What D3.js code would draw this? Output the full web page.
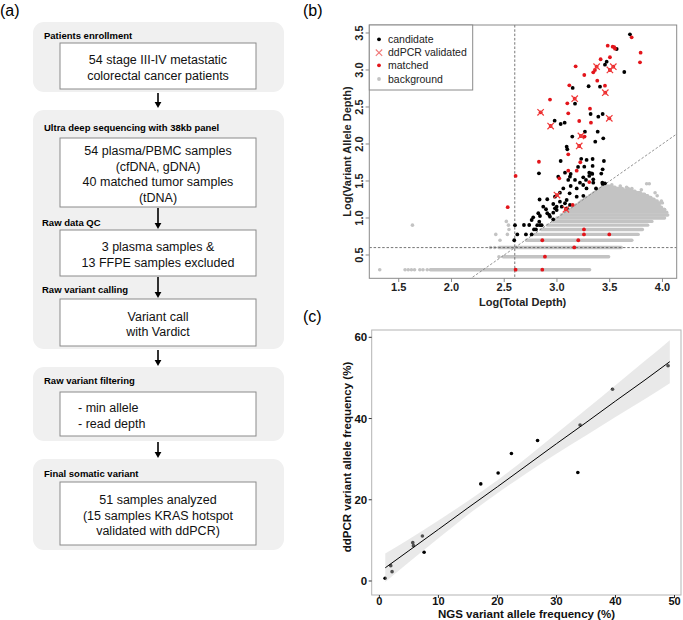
<!DOCTYPE html>
<html><head><meta charset="utf-8">
<script src="https://cdn.jsdelivr.net/npm/d3@7"></script>
<style>body{margin:0;background:#fff} svg{display:block} text{font-family:"Liberation Sans",Arial,sans-serif}</style>
</head><body><svg id="c" width="683" height="620"></svg>
<script>
// ---------------- Panel (a) flowchart texts ----------------
const stageTitles = ["Patients enrollment", "Ultra deep sequencing with 38kb panel", "Raw variant filtering", "Final somatic variant"];
const stepLabels = ["Raw data QC", "Raw variant calling"];
const boxLines = [
  ["54 stage III-IV metastatic", "colorectal cancer patients"],
  ["54 plasma/PBMC samples", "(cfDNA, gDNA)", "40 matched tumor samples", "(tDNA)"],
  ["3 plasma samples &", "13 FFPE samples excluded"],
  ["Variant call", "with Vardict"],
  ["- min allele", "- read depth"],
  ["51 samples analyzed", "(15 samples KRAS hotspot", "validated with ddPCR)"]
];
const panelTags = ["(a)", "(b)", "(c)"];

// ---------------- Panel (b) data: log10 depths ----------------
const bTicksX = [1.5, 2.0, 2.5, 3.0, 3.5, 4.0];
const bTicksY = [0.5, 1.0, 1.5, 2.0, 2.5, 3.0, 3.5];
const legendLabels = ["candidate", "ddPCR validated", "matched", "background"];
// background rows: [log allele depth, from log total depth, to log total depth]
const backgroundRows = [
  [0.301, 1.80, 3.31], [0.477, 2.49, 3.49], [0.602, 2.45, 3.61], [0.699, 2.71, 3.71],
  [0.778, 2.79, 3.77], [0.845, 2.85, 3.81], [0.903, 2.91, 3.86], [0.954, 2.96, 3.90],
  [1.000, 3.00, 4.02], [1.041, 3.04, 4.05], [1.079, 3.08, 4.04], [1.114, 3.12, 4.02],
  [1.146, 3.15, 3.99], [1.176, 3.18, 3.97], [1.204, 3.21, 4.00], [1.230, 3.23, 3.95],
  [1.255, 3.26, 3.92], [1.279, 3.28, 3.89], [1.301, 3.31, 3.86], [1.322, 3.33, 3.83],
  [1.342, 3.35, 3.79], [1.362, 3.37, 3.74], [1.380, 3.39, 3.70], [1.398, 3.41, 3.62],
  [1.415, 3.43, 3.55], [1.431, 3.45, 3.50]
];
const backgroundPts = [
  [1.32, 0.301], [1.56, 0.301], [1.59, 0.301], [1.62, 0.301], [1.65, 0.301], [1.70, 0.301], [1.73, 0.301], [1.77, 0.301],
  [2.45, 0.477], [2.37, 0.602], [2.41, 0.602], [2.46, 0.699], [2.42, 0.778], [2.53, 0.778], [2.545, 0.845],
  [1.63, 0.903], [2.54, 0.903], [2.52, 0.954],
  [3.676, 1.398], [3.71, 1.398], [3.77, 1.322], [3.85, 1.462], [3.875, 1.462], [3.99, 1.23], [4.02, 1.114],
  [3.60, 1.431], [3.66, 1.415], [3.95, 1.301], [3.93, 1.342], [3.52, 1.447], [3.80, 1.380]
];
const candidate = [
  [3.692, 3.482], [3.566, 3.284], [3.471, 3.112], [3.455, 3.072], [3.638, 2.973], [3.149, 2.757], [3.30, 2.78],
  [3.408, 2.774], [3.171, 2.545], [3.319, 2.405], [3.392, 2.369], [3.433, 2.405], [2.978, 2.315], [3.035, 2.27],
  [3.073, 2.288], [3.265, 2.166], [3.145, 2.10], [3.386, 2.166], [3.363, 2.031], [3.439, 2.077], [3.092, 1.963],
  [3.098, 1.928], [2.829, 1.604], [2.835, 1.25], [3.035, 1.77], [3.281, 1.784], [3.338, 1.797], [3.445, 1.77],
  [3.259, 1.693], [3.338, 1.703], [3.433, 1.658], [3.076, 1.612], [3.13, 1.595], [3.306, 1.612], [3.335, 1.595],
  [3.249, 1.55], [3.344, 1.523], [3.433, 1.46], [3.455, 1.469], [3.107, 1.514], [3.012, 1.558], [3.123, 1.558],
  [3.306, 1.568], [3.329, 1.604], [3.275, 1.514], [3.344, 1.477], [3.171, 1.514], [3.218, 1.477], [3.249, 1.446],
  [3.13, 1.432], [3.187, 1.40], [3.06, 1.40], [3.028, 1.342], [2.981, 1.288], [3.028, 1.22], [3.076, 1.199],
  [3.123, 1.176], [3.045, 1.153], [3.092, 1.131], [2.997, 1.108], [2.965, 1.072], [2.934, 1.018], [2.965, 0.982],
  [2.908, 1.253], [2.965, 1.189], [2.997, 1.153], [2.981, 1.131], [2.870, 1.153], [2.896, 1.118], [2.908, 1.064],
  [2.927, 1.041], [2.823, 1.064], [2.839, 1.027], [2.775, 1.009], [2.760, 0.973], [2.832, 0.95], [2.687, 0.905],
  [2.737, 0.905], [2.782, 0.845], [2.801, 0.845], [2.813, 0.903], [2.839, 0.903], [2.855, 0.903], [2.602, 0.903],
  [2.624, 0.778], [2.706, 0.778], [2.760, 0.778], [2.595, 0.699], [3.092, 1.243], [3.187, 1.288], [3.25, 1.30],
  [3.12, 1.333], [3.28, 1.40], [3.37, 1.40], [3.42, 1.60], [3.43, 1.477], [3.23, 1.80], [3.20, 1.69]
];
const matched = [
  [3.708, 3.442], [3.793, 3.234], [3.787, 3.104], [3.481, 3.328], [3.528, 3.315], [3.543, 3.307], [3.55, 3.288],
  [3.502, 3.172], [3.414, 3.145], [3.36, 3.0], [3.344, 2.969], [3.177, 3.05], [3.259, 2.932], [3.382, 2.855],
  [3.117, 2.793], [3.455, 2.788], [3.098, 2.55], [3.313, 2.477], [2.934, 2.60], [3.107, 2.415], [3.211, 2.311],
  [3.322, 2.288], [3.262, 2.10], [3.107, 1.861], [3.221, 1.753], [3.107, 1.639], [3.187, 1.639], [3.306, 1.486],
  [3.022, 1.536], [2.829, 1.76], [2.608, 1.568], [2.533, 1.146], [3.149, 1.176], [2.861, 0.699], [2.886, 0.477],
  [2.608, 0.301], [2.861, 0.301], [3.256, 0.845], [3.256, 0.778], [3.496, 0.778], [3.202, 0.699], [3.164, 0.602]
];
const ddpcr = [
  [2.845, 2.428], [2.94, 2.243], [3.168, 2.612], [3.211, 1.973], [3.227, 2.108], [3.376, 3.045],
  [3.458, 2.693], [3.496, 2.347], [3.502, 3.0], [3.534, 3.045], [3.0, 1.31], [3.085, 1.118]
];
const cutTotal = 2.6, cutAllele = 0.6, vafLine = [[2.0, 0.0], [4.3, 2.3]];

// ---------------- Panel (c) data ----------------
const ngsVaf   = [0.97, 1.93, 2.15, 5.66, 5.77, 7.29, 7.58, 17.18, 20.12, 22.37, 26.8, 33.62, 34.0, 39.5, 48.9];
const ddpcrVaf = [0.66, 3.78, 2.30, 9.44, 8.70, 11.08, 7.07, 23.9, 26.6, 31.4, 34.6, 26.7, 38.4, 47.2, 53.0];
const fitX     = [1.0, 5, 10, 15, 20, 25, 30, 35, 40, 45, 49.2];
const fitY     = [3.25, 7.46, 12.7, 18.0, 23.2, 28.5, 33.8, 39.0, 44.3, 49.5, 54.0];
const fitLower = [-0.25, 4.6, 10.5, 16.3, 21.6, 26.6, 31.3, 35.8, 40.4, 44.8, 48.7];
const fitUpper = [6.75, 10.3, 14.9, 19.7, 24.8, 30.4, 36.3, 42.2, 48.2, 54.2, 59.3];
const cTicksX = [0, 10, 20, 30, 40, 50];
const cTicksY = [0, 20, 40, 60];

// =====================================================================
const svg = d3.select("#c");
const RED = "#e3151b", GREY = "#c3c3c3";

// ---------- panel tags ----------
[[0, 16], [303, 16], [303, 322]].forEach((p, i) =>
  svg.append("text").attr("x", p[0]).attr("y", p[1]).attr("font-size", 16).text(panelTags[i]));

// ---------- panel (a) ----------
const A = svg.append("g");
const groups = [[22, 70], [110, 239], [367, 74], [459, 91]];
groups.forEach(g => A.append("rect").attr("x", 33).attr("y", g[0]).attr("width", 251).attr("height", g[1])
  .attr("rx", 11).attr("fill", "#f0f0f0"));
const titleY = [38.5, 130.5, 383.5, 476.5];
stageTitles.forEach((t, i) => A.append("text").attr("x", 44).attr("y", titleY[i])
  .attr("font-size", 9.5).attr("font-weight", "bold").text(t));
const stepY = [225.5, 292.5];
stepLabels.forEach((t, i) => A.append("text").attr("x", 42).attr("y", stepY[i])
  .attr("font-size", 9.5).attr("font-weight", "bold").text(t));
const boxes = [[43, 46], [138, 69], [230, 46], [299, 47], [392, 44], [482, 63]];
boxes.forEach((b, i) => {
  A.append("rect").attr("x", 60).attr("y", b[0]).attr("width", 196).attr("height", b[1])
    .attr("fill", "#fff").attr("stroke", "#8a8a8a").attr("stroke-width", 1);
  const lines = boxLines[i], lh = 15.4;
  const mid = b[0] + b[1] / 2 + 1.5;
  const left = i === 4;
  lines.forEach((l, j) => A.append("text")
    .attr("x", left ? 78 : 158)
    .attr("y", mid - (lines.length - 1) * lh / 2 + j * lh + 4.5)
    .attr("text-anchor", left ? "start" : "middle")
    .attr("font-size", 12.5).attr("fill", "#111").text(l));
});
const arrows = [[93, 108], [208, 229], [277, 298], [350, 366], [442, 458]];
arrows.forEach(a => {
  A.append("line").attr("x1", 158).attr("x2", 158).attr("y1", a[0]).attr("y2", a[1] - 4)
    .attr("stroke", "#000").attr("stroke-width", 1.6);
  A.append("path").attr("d", `M154.6,${a[1] - 6}L161.4,${a[1] - 6}L158,${a[1]}Z`).attr("fill", "#000");
});

// ---------- panel (b) ----------
const bx = d3.scaleLinear().domain([1.221, 4.135]).range([369.3, 676.7]);
const by = d3.scaleLinear().domain([0.185, 3.608]).range([278.3, 25]);
const B = svg.append("g");
B.append("defs").append("clipPath").attr("id", "clipb").append("rect")
  .attr("x", 369.3).attr("y", 25).attr("width", 307.4).attr("height", 253.3);
const P = B.append("g").attr("clip-path", "url(#clipb)");
// background
P.selectAll(".bgrow").data(backgroundRows).enter().append("line")
  .attr("x1", d => bx(d[1])).attr("x2", d => bx(d[2]))
  .attr("y1", d => by(d[0])).attr("y2", d => by(d[0]))
  .attr("stroke", GREY).attr("stroke-width", 3.4).attr("stroke-linecap", "round");
P.selectAll(".bgpt").data(backgroundPts).enter().append("circle")
  .attr("cx", d => bx(d[0])).attr("cy", d => by(d[1])).attr("r", 1.8).attr("fill", GREY);
// reference lines
const dash = "2.5,1.8";
P.append("line").attr("x1", bx(cutTotal)).attr("x2", bx(cutTotal)).attr("y1", 25).attr("y2", 278.3)
  .attr("stroke", "#555").attr("stroke-width", 0.8).attr("stroke-dasharray", dash);
P.append("line").attr("x1", 369.3).attr("x2", 676.7).attr("y1", by(cutAllele)).attr("y2", by(cutAllele))
  .attr("stroke", "#555").attr("stroke-width", 0.8).attr("stroke-dasharray", dash);
P.append("line").attr("x1", bx(vafLine[0][0])).attr("x2", bx(vafLine[1][0]))
  .attr("y1", by(vafLine[0][1])).attr("y2", by(vafLine[1][1]))
  .attr("stroke", "#777").attr("stroke-width", 0.8).attr("stroke-dasharray", dash);
// candidates and matched
P.selectAll(".cand").data(candidate).enter().append("circle")
  .attr("cx", d => bx(d[0])).attr("cy", d => by(d[1])).attr("r", 1.9).attr("fill", "#000");
P.selectAll(".match").data(matched.concat(ddpcr)).enter().append("circle")
  .attr("cx", d => bx(d[0])).attr("cy", d => by(d[1])).attr("r", 1.9).attr("fill", RED);
const xmark = (g, x, y, s, col, w) => g.append("path")
  .attr("d", `M${x - s},${y - s}L${x + s},${y + s}M${x - s},${y + s}L${x + s},${y - s}`)
  .attr("stroke", col).attr("stroke-width", w).attr("fill", "none");
ddpcr.forEach(d => xmark(P, bx(d[0]), by(d[1]), 3.2, "#f03a3a", 1.2));
// frame
B.append("rect").attr("x", 369.3).attr("y", 25).attr("width", 307.4).attr("height", 253.3)
  .attr("fill", "none").attr("stroke", "#8a8a8a").attr("stroke-width", 1);
// axes
bTicksX.forEach(t => {
  B.append("line").attr("x1", bx(t)).attr("x2", bx(t)).attr("y1", 278.3).attr("y2", 282)
    .attr("stroke", "#8a8a8a");
  B.append("text").attr("x", bx(t)).attr("y", 290.5).attr("text-anchor", "middle")
    .attr("font-size", 11).attr("font-weight", "bold").attr("fill", "#222").text(t.toFixed(1));
});
bTicksY.forEach(t => {
  B.append("line").attr("x1", 365.6).attr("x2", 369.3).attr("y1", by(t)).attr("y2", by(t))
    .attr("stroke", "#8a8a8a");
  B.append("text").attr("transform", `translate(363.2,${by(t)}) rotate(-90)`).attr("text-anchor", "middle")
    .attr("font-size", 11).attr("font-weight", "bold").attr("fill", "#222").text(t.toFixed(1));
});
B.append("text").attr("x", 522.7).attr("y", 305.5).attr("text-anchor", "middle")
  .attr("font-size", 11).attr("font-weight", "bold").attr("fill", "#222").text("Log(Total Depth)");
B.append("text").attr("transform", "translate(350.5,151.6) rotate(-90)").attr("text-anchor", "middle")
  .attr("font-size", 11).attr("font-weight", "bold").attr("fill", "#222").text("Log(Variant Allele Depth)");
// legend
B.append("rect").attr("x", 369.3).attr("y", 25).attr("width", 103.4).attr("height", 65)
  .attr("fill", "#fff").attr("stroke", "#8a8a8a").attr("stroke-width", 1);
const legY = [39.3, 52.7, 65.3, 79];
legendLabels.forEach((l, i) => {
  const y = legY[i];
  if (i === 0) B.append("circle").attr("cx", 379).attr("cy", y).attr("r", 1.9).attr("fill", "#000");
  if (i === 1) xmark(B, 379, y, 3.2, "#f07a7a", 1.1);
  if (i === 2) B.append("circle").attr("cx", 379).attr("cy", y).attr("r", 1.9).attr("fill", RED);
  if (i === 3) B.append("circle").attr("cx", 379).attr("cy", y).attr("r", 1.9).attr("fill", GREY);
  B.append("text").attr("x", 388).attr("y", y + 3.7).attr("font-size", 10.5).attr("fill", "#222").text(l);
});

// ---------- panel (c) ----------
const cx = d3.scaleLinear().domain([-1.3, 51.1]).range([371.7, 681]);
const cy = d3.scaleLinear().domain([-3.45, 61.8]).range([595, 330]);
const C = svg.append("g");
const cpts = ngsVaf.map((v, i) => [v, ddpcrVaf[i]]);
C.selectAll(".cp").data(cpts).enter().append("circle")
  .attr("cx", d => cx(d[0])).attr("cy", d => cy(d[1])).attr("r", 1.8).attr("fill", "#000");
const band = fitX.map((x, i) => ({x, lo: fitLower[i], hi: fitUpper[i], y: fitY[i]}));
C.append("path").datum(band)
  .attr("d", d3.area().x(d => cx(d.x)).y0(d => cy(d.lo)).y1(d => cy(d.hi)).curve(d3.curveMonotoneX))
  .attr("fill", "#c8c8c8").attr("fill-opacity", 0.4);
C.append("path").datum(band)
  .attr("d", d3.line().x(d => cx(d.x)).y(d => cy(d.y)))
  .attr("fill", "none").attr("stroke", "#000").attr("stroke-width", 1);
C.append("rect").attr("x", 371.7).attr("y", 330).attr("width", 309.3).attr("height", 265)
  .attr("fill", "none").attr("stroke", "#b3b3b3").attr("stroke-width", 1);
cTicksX.forEach(t => {
  C.append("line").attr("x1", cx(t)).attr("x2", cx(t)).attr("y1", 595).attr("y2", 598).attr("stroke", "#333");
  C.append("text").attr("x", cx(t)).attr("y", 604.8).attr("text-anchor", "middle")
    .attr("font-size", 11).attr("font-weight", "bold").attr("fill", "#111").text(t);
});
cTicksY.forEach(t => {
  C.append("line").attr("x1", 368.7).attr("x2", 371.7).attr("y1", cy(t)).attr("y2", cy(t)).attr("stroke", "#333");
  C.append("text").attr("x", 367.2).attr("y", cy(t) + 4).attr("text-anchor", "end")
    .attr("font-size", 11.5).attr("font-weight", "bold").attr("fill", "#111").text(t);
});
C.append("text").attr("x", 526.5).attr("y", 618.3).attr("text-anchor", "middle")
  .attr("font-size", 11.5).attr("font-weight", "bold").attr("fill", "#111").text("NGS variant allele frequency (%)");
C.append("text").attr("transform", "translate(350.5,457) rotate(-90)").attr("text-anchor", "middle")
  .attr("font-size", 11.5).attr("font-weight", "bold").attr("fill", "#111").text("ddPCR variant allele frequency (%)");
</script></body></html>
